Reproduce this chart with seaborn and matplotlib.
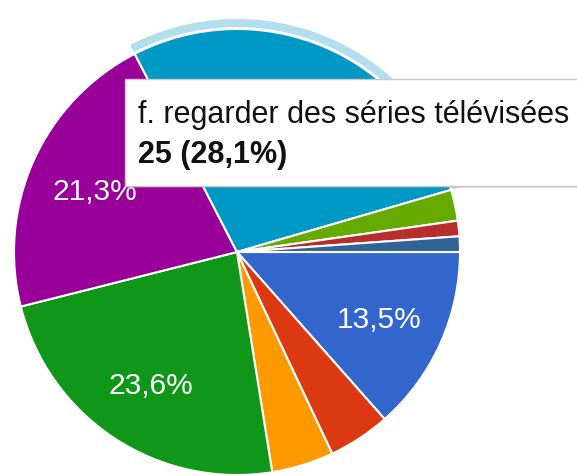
import matplotlib
matplotlib.use("Agg")
import matplotlib.pyplot as plt
from matplotlib.patches import Wedge, Rectangle
import seaborn as sns

# ---- data ----
categories = ["a.", "b.", "c.", "d.", "e.",
              "f. regarder des séries télévisées", "g.", "h.", "i."]
counts = [12, 4, 4, 21, 19, 25, 2, 1, 1]
colors = ["#3366cc", "#dc3912", "#ff9900", "#109618", "#990099",
          "#0099c6", "#66aa00", "#b82e2e", "#316395"]
highlight_index = 5

sns.set_theme(style="white")
plt.rcParams["font.family"] = ["Liberation Sans", "DejaVu Sans"]

W, H = 577, 475
fig = plt.figure(figsize=(W / 100, H / 100), dpi=100)
ax = fig.add_axes([0, 0, 1, 1])

cx, cy, R = 237, H - 252, 223


def fmt(p):
    return f"{p:.1f}%".replace(".", ",") if p >= 10 else ""


wedges, texts, autotexts = ax.pie(
    counts, colors=colors, startangle=0, counterclock=False,
    center=(cx, cy), radius=R, autopct=fmt, pctdistance=0.7,
    wedgeprops=dict(edgecolor="white", linewidth=1.5),
    textprops=dict(color="white", fontsize=21.5),
)
for t in autotexts:
    x, y = t.get_position()
    t.set_position((x, y - 4))
# the highlighted slice's own label sits under the tooltip
autotexts[highlight_index].set_visible(False)

ax.set_xlim(0, W)
ax.set_ylim(0, H)
ax.set_aspect("equal")
ax.axis("off")

# hover highlight ring
hw = wedges[highlight_index]
ax.add_patch(Wedge((cx, cy), R + 10, hw.theta1, hw.theta2, width=8,
                   facecolor="#b3deee", edgecolor="none", zorder=3))

# tooltip
tx0, ty0, ty1 = 125, 79, 186
ax.add_patch(Rectangle((tx0 + 2, H - ty1 - 2), W, ty1 - ty0,
                       facecolor="#888888", alpha=0.25, edgecolor="none",
                       zorder=9))
ax.add_patch(Rectangle((tx0, H - ty1), W, ty1 - ty0,
                       facecolor="white", edgecolor="#c8c8c8", lw=1,
                       zorder=10))
total = sum(counts)
pct = counts[highlight_index] / total * 100
ax.text(138, H - 123, categories[highlight_index], fontsize=22,
        color="#111111", va="baseline", ha="left", zorder=11)
ax.text(138, H - 163,
        f"{counts[highlight_index]} ({pct:.1f}%)".replace(".", ","),
        fontsize=22, fontweight="bold", color="#111111",
        va="baseline", ha="left", zorder=11)

fig.savefig("out.png", dpi=100)
